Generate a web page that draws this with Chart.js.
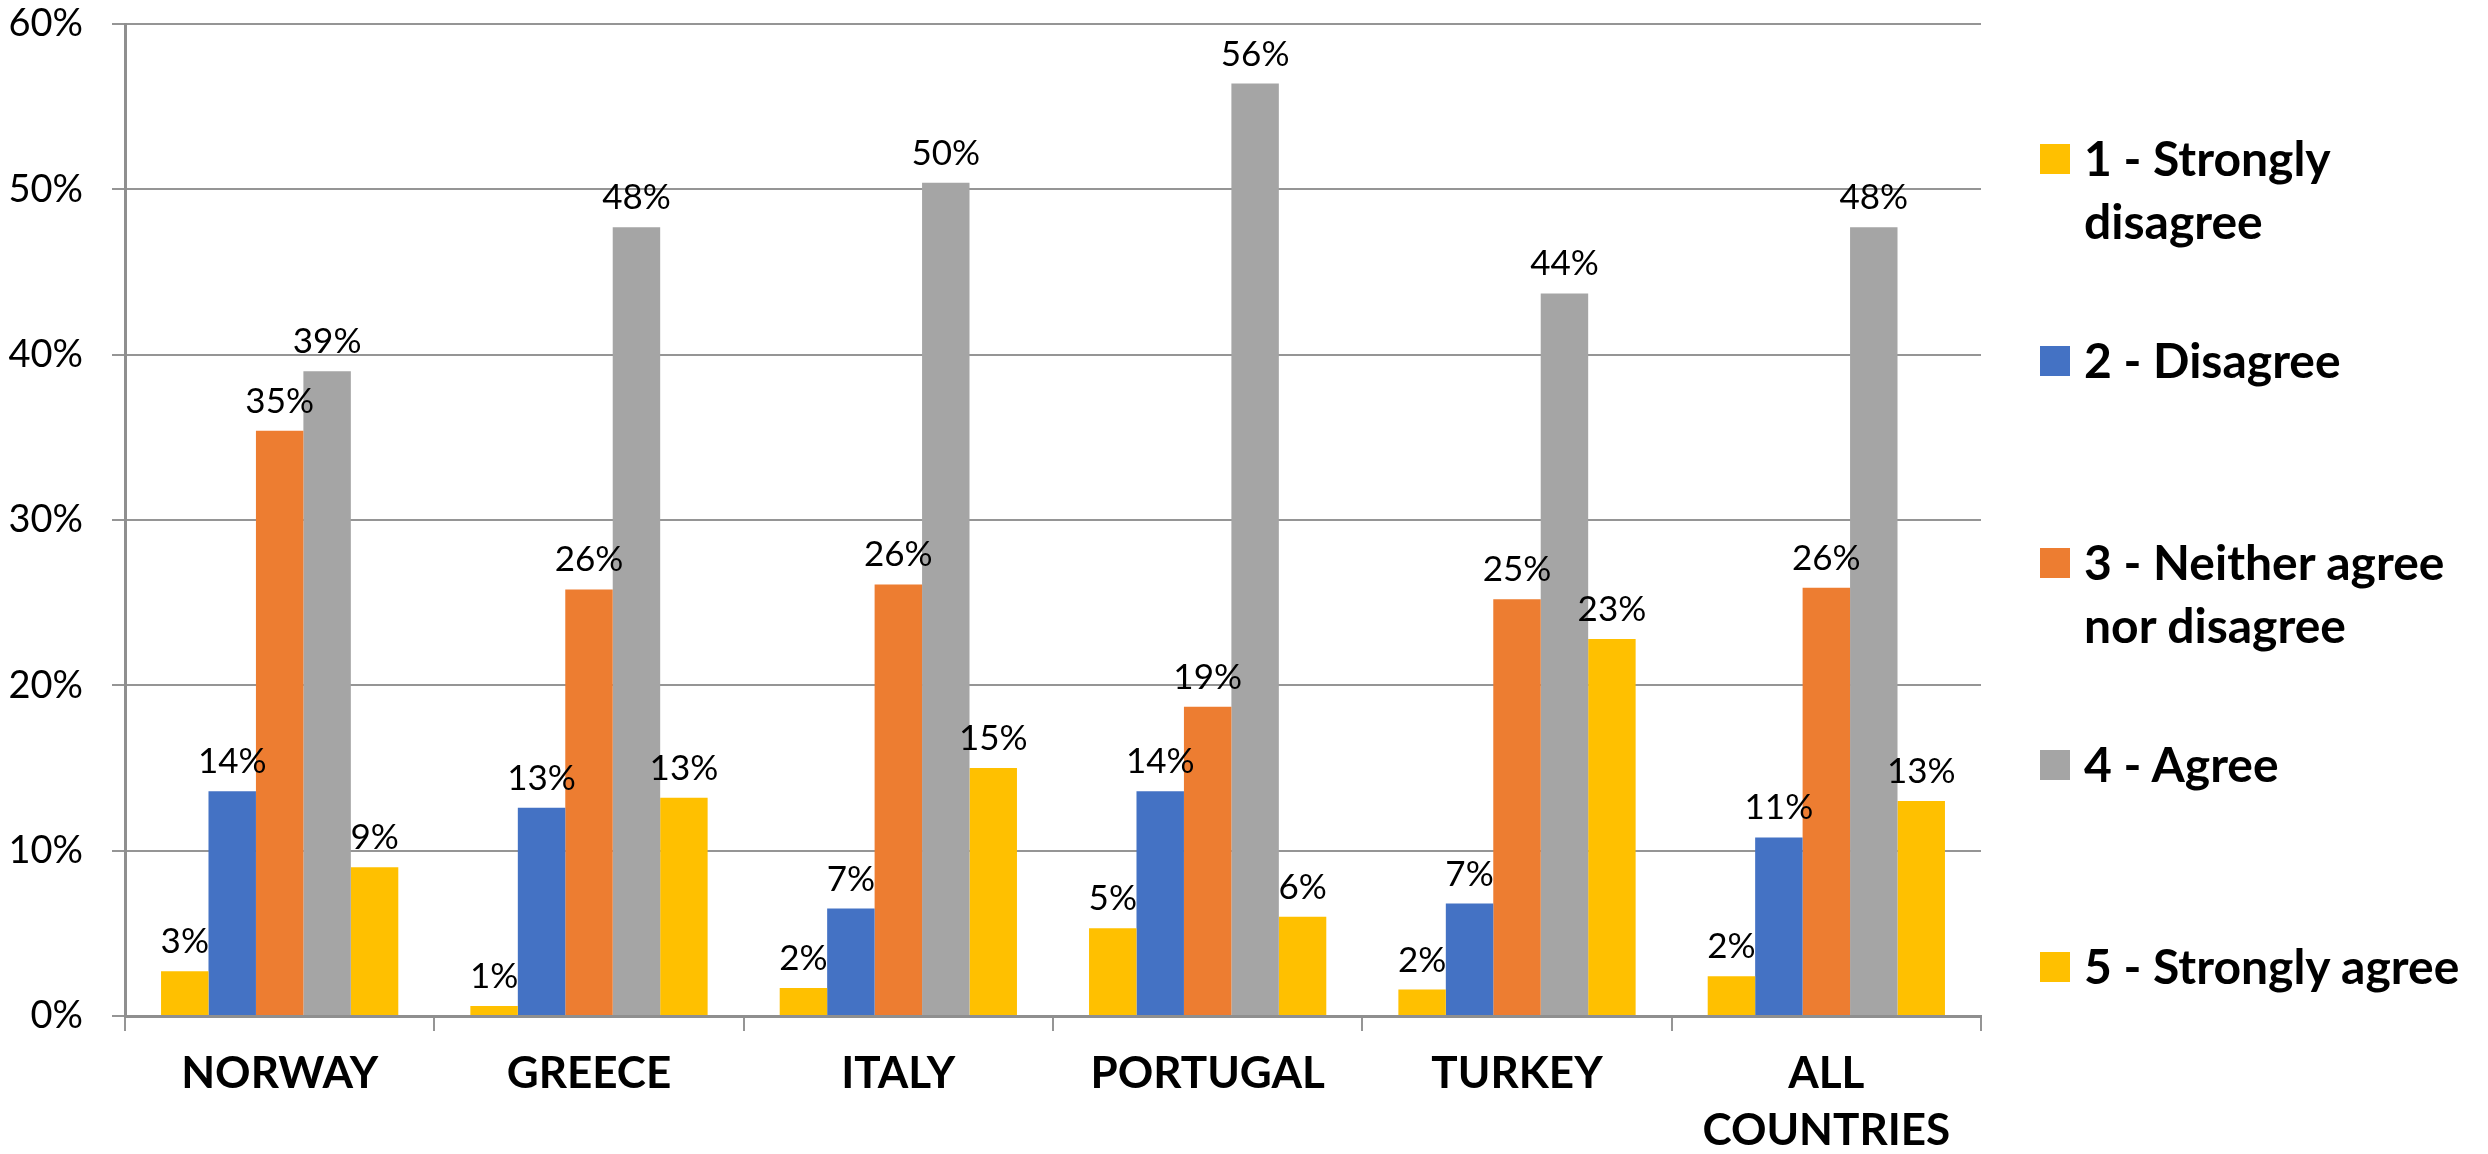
<!DOCTYPE html>
<html>
<head>
<meta charset="utf-8">
<script src="https://cdn.jsdelivr.net/npm/chart.js@4.4.1/dist/chart.umd.min.js"></script>
<style>
  html, body { margin: 0; padding: 0; background: #fff; }
  #wrap { position: relative; width: 2488px; height: 1154px; overflow: hidden; }
  #legend { position: absolute; left: 2040px; top: 126px; font-family: Lato, sans-serif; font-weight: bold; font-size: 48px; color: #000; }
  .item { position: relative; height: 202px; padding-left: 44px; width: 400px; line-height: 63px; }
  .box { position: absolute; left: 0; top: 18px; width: 30px; height: 30px; }
</style>
</head>
<body>
<div id="wrap">
  <canvas id="myChart" width="2488" height="1154"></canvas>
  <div id="legend"></div>
</div>
<script>
// survey answers per country, in percent
const countries = ['NORWAY', 'GREECE', 'ITALY', 'PORTUGAL', 'TURKEY', ['ALL', 'COUNTRIES']];
const seriesNames = ['1 - Strongly disagree', '2 - Disagree', '3 - Neither agree nor disagree', '4 - Agree', '5 - Strongly agree'];
const seriesColors = ['#FFC000', '#4472C4', '#ED7D31', '#A5A5A5', '#FFC000'];

const stronglyDisagree = [2.7, 0.6, 1.7, 5.3, 1.6, 2.4];
const disagree = [13.6, 12.6, 6.5, 13.6, 6.8, 10.8];
const neither = [35.4, 25.8, 26.1, 18.7, 25.2, 25.9];
const agree = [39.0, 47.7, 50.4, 56.4, 43.7, 47.7];
const stronglyAgree = [9.0, 13.2, 15.0, 6.0, 22.8, 13.0];

const yMax = 60;
const yStep = 10;

const seriesValues = [stronglyDisagree, disagree, neither, agree, stronglyAgree];

// labels on top of every bar
const valueLabels = {
  id: 'valueLabels',
  afterDatasetsDraw(chart) {
    const ctx = chart.ctx;
    ctx.save();
    ctx.font = '35px Lato';
    ctx.fillStyle = '#000';
    ctx.textAlign = 'center';
    ctx.textBaseline = 'alphabetic';
    chart.data.datasets.forEach((ds, i) => {
      chart.getDatasetMeta(i).data.forEach((bar, j) => {
        ctx.fillText(Math.round(ds.data[j]) + '%', bar.x, bar.y - 18);
      });
    });
    ctx.restore();
  }
};

function buildLegend() {
  const legend = document.getElementById('legend');
  seriesNames.forEach((name, i) => {
    const item = document.createElement('div');
    item.className = 'item';
    const box = document.createElement('span');
    box.className = 'box';
    box.style.background = seriesColors[i];
    item.appendChild(box);
    item.appendChild(document.createTextNode(name));
    legend.appendChild(item);
  });
}

function draw() {
  const ctx = document.getElementById('myChart').getContext('2d');

  const data = {
    labels: countries,
    datasets: seriesNames.map((name, i) => ({
      label: name,
      data: seriesValues[i],
      backgroundColor: seriesColors[i],
      borderWidth: 0
    }))
  };

  const config = {
    type: 'bar',
    data: data,
    options: {
      responsive: false,
      animation: false,
      layout: { padding: { left: 0, right: 507, top: 24, bottom: 0 } },
      plugins: {
        legend: { display: false },
        tooltip: { enabled: false }
      },
      datasets: {
        bar: { categoryPercentage: 0.767, barPercentage: 1.0 }
      },
      scales: {
        x: {
          grid: { drawOnChartArea: false, color: '#959595', lineWidth: 2, tickLength: 15, offset: true },
          border: { color: '#8f8f8f', width: 3 },
          ticks: {
            color: '#000',
            padding: 14,
            font: { family: 'Lato', size: 44, weight: 'bold', lineHeight: 1.3 },
            maxRotation: 0,
            autoSkip: false
          },
          afterFit: (scale) => { scale.height = 138; }
        },
        y: {
          min: 0,
          max: yMax,
          grid: { color: '#959595', lineWidth: 2, tickLength: 13 },
          border: { color: '#8f8f8f', width: 3 },
          ticks: {
            stepSize: yStep,
            color: '#000',
            padding: 29,
            font: { family: 'Lato', size: 38 },
            callback: (v) => v + '%'
          },
          afterFit: (scale) => {
            scale.width = 125;
            scale.paddingTop = 0;
            scale.paddingBottom = 0;
          }
        }
      }
    },
    plugins: [valueLabels]
  };

  const myChart = new Chart(ctx, config);
}

buildLegend();
Promise.all([
  document.fonts.load('bold 44px Lato'),
  document.fonts.load('38px Lato')
]).then(draw, draw);
</script>
</body>
</html>
